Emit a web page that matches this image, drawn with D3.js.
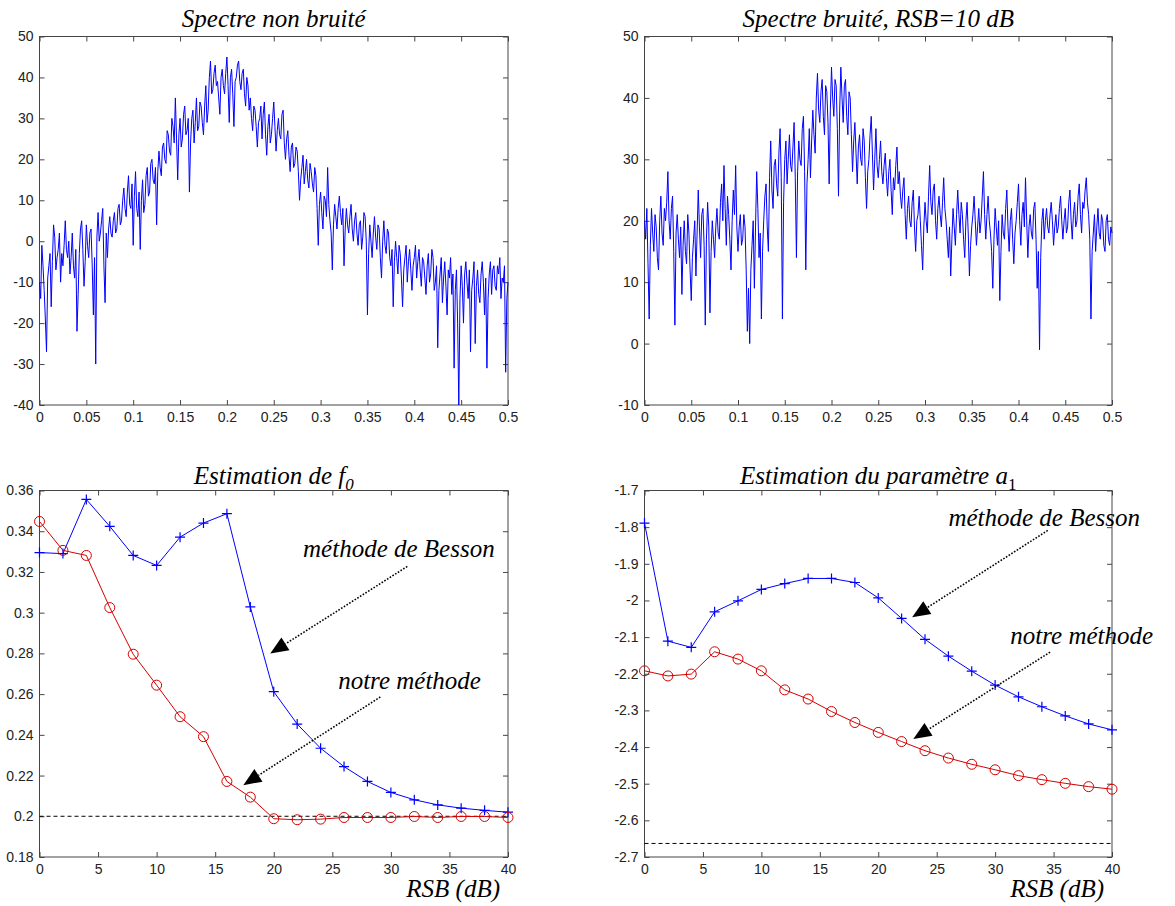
<!DOCTYPE html>
<html>
<head>
<meta charset="utf-8">
<script src="https://cdn.jsdelivr.net/npm/d3@7"></script>
<style>
  body { margin: 0; background: #fff; }
  .serif { font-family: "Liberation Serif", "DejaVu Serif", "Noto Serif", "Tinos", "Times New Roman", Times, serif; }
</style>
</head>
<body>
<svg id="chart" width="1175" height="906"></svg>
<script>
// --- data ---
const freqTicks = [0, 0.05, 0.1, 0.15, 0.2, 0.25, 0.3, 0.35, 0.4, 0.45, 0.5];
const specTicksClean = [-40, -30, -20, -10, 0, 10, 20, 30, 40, 50];
const specTicksNoisy = [-10, 0, 10, 20, 30, 40, 50];
const rsbTicks = [0, 5, 10, 15, 20, 25, 30, 35, 40];
const f0Ticks = [0.18, 0.2, 0.22, 0.24, 0.26, 0.28, 0.3, 0.32, 0.34, 0.36];
const a1Ticks = [-2.7, -2.6, -2.5, -2.4, -2.3, -2.2, -2.1, -2, -1.9, -1.8, -1.7];

// spectra (dB) sampled every 0.00125 on [0, 0.5]
const freqStep = 0.00125;
const spectreNonBruite = [
  -10, -14, -1, -6, -12, -19, -27, -9, -6, -3, -16, -5, 4, 1, -7, -4, -2, 2, -10, -3,
  -6, -1, 5, -2, -4, 0, -8, -4, 2, -6, -9, -2, -22, -13, -3, 3, 5, -2, -11, -5,
  4, -1, -4, 2, 3, -6, -18, -4, -30, 1, 7, 0, 2, 5, 8, -6, -15, 2, -4, 3,
  6, 2, 1, 5, 7, 2, 3, 8, 9, 4, 5, 10, 13, 8, 6, 12, 16, 9, 8, 14,
  -1, 11, 17, 8, 6, 12, -2, 10, 15, 7, 9, 16, 18, 11, 12, 19, 20, 15, 14, 18,
  4, 17, 22, 18, 16, 23, 24, 20, 19, 27, 26, 22, 21, 30, 28, 24, 35, 25, 15, 26,
  30, 23, 25, 31, 33, 26, 27, 30, 12, 24, 30, 32, 24, 29, 35, 27, 28, 34, 33, 29,
  26, 33, 38, 29, 32, 40, 44, 36, 37, 41, 43, 38, 39, 35, 31, 40, 42, 38, 36, 41,
  45, 38, 29, 40, 42, 36, 28, 39, 40, 43, 44, 39, 37, 41, 42, 36, 33, 40, 38, 32,
  35, 30, 27, 33, 32, 28, 23, 29, 30, 33, 25, 31, 34, 26, 21, 28, 31, 24, 26, 30,
  34, 28, 22, 27, 30, 26, 25, 31, 32, 24, 20, 25, 27, 21, 17, 23, 24, 18, 19, 23,
  22, 17, 10, 15, 18, 21, 14, 17, 20, 15, 13, 19, 17, 14, 12, 18, 16, 8, -1, 9,
  12, 7, 3, 11, 10, 6, 18, 9, 5, 2, -7, 4, 9, 6, 3, 8, 11, 7, 4, 8,
  -6, 3, 8, 4, 2, 6, 9, 3, 0, 5, 7, 2, -1, 4, 5, -2, 1, 7, 6, 0,
  -18, -3, 4, 0, -4, 2, 6, 1, -2, 4, 3, -4, -9, 0, 5, -1, -3, 3, 2, -4,
  -6, -2, -16, -5, 0, -4, -8, -1, -3, -9, -16, -7, -4, -1, -10, -5, -2, -7, -12, -6,
  -4, -1, -9, -5, -2, -7, -11, -4, -5, -9, -13, -6, -3, -10, -8, -2, -4, -12, -10, -6,
  -26, -12, -8, -4, -15, -9, -5, -11, -18, -7, -9, -4, -13, -8, -31, -12, -7, -20, -40, -14,
  -6, -11, -20, -8, -5, -10, -14, -7, -27, -12, -9, -5, -25, -11, -7, -13, -15, -8, -5, -10,
  -18, -9, -31, -14, -8, -5, -13, -7, -6, -11, -12, -6, -8, -4, -14, -9, -10, -6, -32, -14,
  -10
];
const spectreBruite = [
  20, 17, 22, 13, 4, 16, 22, 18, 15, 21, 19, 14, 12, 20, 24, 18, 16, 22, 20, 23,
  28, 20, 17, 22, 24, 15, 3, 18, 21, 17, 14, 19, 8, 16, 20, 15, 13, 21, 18, 12,
  7, 14, 17, 20, 11, 18, 25, 19, 14, 21, 22, 16, 3, 17, 23, 19, 5, 15, 20, 17,
  14, 19, 22, 18, 17, 23, 26, 20, 29, 22, 16, 24, 21, 17, 12, 20, 25, 21, 29, 19,
  15, 19, 21, 16, 17, 21, 19, 12, 2, 9, 0, 12, 16, 20, 9, 19, 28, 22, 14, 18,
  4, 15, 20, 24, 26, 19, 15, 27, 33, 25, 22, 29, 30, 26, 24, 31, 35, 27, 4, 23,
  30, 33, 26, 30, 34, 29, 28, 32, 36, 27, 14, 28, 33, 30, 29, 35, 37, 28, 12, 26,
  30, 35, 27, 33, 38, 34, 31, 40, 44, 38, 36, 41, 43, 37, 34, 42, 41, 36, 26, 38,
  45, 40, 37, 43, 42, 35, 24, 38, 45, 40, 36, 42, 43, 37, 34, 41, 40, 34, 28, 33,
  36, 31, 26, 32, 34, 30, 29, 35, 33, 27, 22, 28, 30, 34, 37, 31, 25, 30, 35, 29,
  27, 30, 33, 28, 26, 29, 31, 27, 24, 28, 30, 25, 21, 27, 25, 29, 32, 26, 28, 24,
  22, 25, 27, 21, 17, 22, 24, 20, 19, 23, 25, 19, 15, 20, 21, 24, 20, 16, 12, 19,
  23, 20, 18, 24, 29, 23, 21, 25, 26, 20, 17, 22, 24, 21, 19, 23, 27, 22, 20, 17,
  14, 19, 11, 17, 22, 19, 16, 21, 25, 21, 18, 23, 21, 17, 14, 20, 23, 18, 11, 16,
  19, 21, 24, 20, 16, 19, 22, 18, 20, 24, 28, 21, 17, 21, 24, 20, 18, 15, 9, 17,
  22, 19, 16, 20, 7, 15, 21, 18, 17, 22, 25, 19, 15, 20, 22, 17, 13, 18, 20, 23,
  26, 20, 16, 21, 23, 19, 27, 20, 14, 19, 21, 18, 17, 22, 23, 17, 9, 15, -1, 14,
  20, 22, 17, 20, 22, 19, 18, 21, 23, 20, 16, 19, 21, 18, 19, 22, 24, 20, 17, 20,
  22, 18, 19, 23, 25, 20, 17, 21, 23, 19, 20, 24, 26, 21, 18, 23, 22, 25, 27, 23,
  21, 17, 4, 15, 18, 21, 15, 19, 22, 18, 17, 21, 20, 16, 15, 20, 21, 17, 16, 19,
  18
];

const rsb = [0, 2, 4, 6, 8, 10, 12, 14, 16, 18, 20, 22, 24, 26, 28, 30, 32, 34, 36, 38, 40];
const f0Besson = [0.3295, 0.329, 0.3556, 0.3424, 0.3281, 0.3232, 0.3371, 0.344, 0.3486, 0.3028, 0.2612,
  0.2453, 0.2334, 0.2244, 0.2171, 0.2117, 0.2081, 0.2056, 0.204, 0.2029, 0.202];
const f0Notre = [0.3448, 0.3306, 0.3281, 0.3025, 0.2796, 0.2644, 0.2489, 0.2391, 0.2171, 0.2094, 0.1988,
  0.1983, 0.1986, 0.1994, 0.1994, 0.1994, 0.1999, 0.1994, 0.1999, 0.1999, 0.1994];
const f0Vrai = 0.2;
const a1Besson = [-1.789, -2.111, -2.128, -2.031, -2.001, -1.970, -1.954, -1.940, -1.940, -1.951, -1.993,
  -2.049, -2.106, -2.152, -2.193, -2.231, -2.263, -2.290, -2.315, -2.337, -2.353];
const a1Notre = [-2.192, -2.206, -2.201, -2.140, -2.160, -2.192, -2.244, -2.269, -2.303, -2.333, -2.360,
  -2.385, -2.410, -2.430, -2.447, -2.462, -2.478, -2.489, -2.499, -2.508, -2.515];
const a1Vrai = -2.663;

// --- drawing ---
const svg = d3.select("#chart");
svg.append("rect").attr("width", 1175).attr("height", 906).attr("fill", "#fff");

const axisColor = "#454545";
const labelFont = "'Liberation Sans', Arial, sans-serif";
const blue = "#0000ff";
const red = "#d40000";

function panel(o) {
  const g = svg.append("g").attr("transform", `translate(${o.left},${o.top})`);
  const x = d3.scaleLinear().domain(o.xDomain).range([0, o.width]);
  const y = d3.scaleLinear().domain(o.yDomain).range([o.height, 0]);

  const style = (sel) => {
    sel.select(".domain").remove();
    sel.selectAll(".tick line").attr("stroke", axisColor);
    sel.selectAll(".tick text")
      .attr("font-family", labelFont).attr("font-size", 14).attr("fill", "#222");
  };

  g.append("g").attr("transform", `translate(0,${o.height})`)
    .call(d3.axisBottom(x).tickValues(o.xTicks).tickFormat(o.xFmt)
      .tickSizeInner(-5).tickSizeOuter(0).tickPadding(7))
    .call(style);
  g.append("g")
    .call(d3.axisTop(x).tickValues(o.xTicks).tickFormat("").tickSizeInner(-5).tickSizeOuter(0))
    .call(style);
  g.append("g")
    .call(d3.axisLeft(y).tickValues(o.yTicks).tickFormat(o.yFmt)
      .tickSizeInner(-5).tickSizeOuter(0).tickPadding(6))
    .call(style);
  g.append("g").attr("transform", `translate(${o.width},0)`)
    .call(d3.axisRight(y).tickValues(o.yTicks).tickFormat("").tickSizeInner(-5).tickSizeOuter(0))
    .call(style);

  g.append("rect").attr("width", o.width).attr("height", o.height)
    .attr("fill", "none").attr("stroke", axisColor).attr("stroke-width", 1);

  const t = g.append("text").attr("class", "serif")
    .attr("x", o.width / 2).attr("y", o.titleY)
    .attr("text-anchor", "middle")
    .attr("font-style", "italic").attr("font-size", 25)
    .attr("fill", "#000");
  t.append("tspan").text(o.title);
  if (o.titleSub) {
    if (o.titleVar) t.append("tspan").text(o.titleVar);
    t.append("tspan").attr("dy", 6).attr("font-size", 17)
      .attr("font-style", o.subStyle || "italic").text(o.titleSub);
  }
  return { g, x, y, width: o.width, height: o.height };
}

const fmt2 = (d) => String(+(+d).toFixed(2));
const fmt1 = (d) => String(+(+d).toFixed(1));

function spectrum(p, values) {
  const line = d3.line().x((d, i) => p.x(i * freqStep)).y((d) => p.y(d));
  p.g.append("path").datum(values)
    .attr("d", line).attr("fill", "none")
    .attr("stroke", blue).attr("stroke-width", 1);
}

function series(p, xs, ys, color, marker) {
  const line = d3.line().x((d, i) => p.x(xs[i])).y((d) => p.y(d));
  p.g.append("path").datum(ys).attr("d", line)
    .attr("fill", "none").attr("stroke", color).attr("stroke-width", 1);
  const m = p.g.append("g");
  ys.forEach((v, i) => {
    const cx = p.x(xs[i]), cy = p.y(v);
    if (marker === "+") {
      m.append("path")
        .attr("d", `M${cx - 5},${cy}H${cx + 5}M${cx},${cy - 5}V${cy + 5}`)
        .attr("stroke", color).attr("stroke-width", 1.2);
    } else {
      m.append("circle").attr("cx", cx).attr("cy", cy).attr("r", 5)
        .attr("fill", "none").attr("stroke", color).attr("stroke-width", 1);
    }
  });
}

function refLine(p, v) {
  p.g.append("line")
    .attr("x1", 0).attr("x2", p.width)
    .attr("y1", p.y(v)).attr("y2", p.y(v))
    .attr("stroke", "#000").attr("stroke-width", 1)
    .attr("stroke-dasharray", "4,3");
}

function note(p, label, tx, ty, x0, y0, x1, y1) {
  p.g.append("text").attr("class", "serif")
    .attr("x", p.x(tx)).attr("y", p.y(ty))
    .attr("font-style", "italic").attr("font-size", 25)
    .attr("fill", "#000").text(label);
  const sx = p.x(x0), sy = p.y(y0), ex = p.x(x1), ey = p.y(y1);
  const len = Math.hypot(sx - ex, sy - ey);
  const ux = (sx - ex) / len, uy = (sy - ey) / len;
  const bx = ex + ux * 18, by = ey + uy * 18;
  p.g.append("line")
    .attr("x1", sx).attr("y1", sy).attr("x2", bx).attr("y2", by)
    .attr("stroke", "#000").attr("stroke-width", 1.6)
    .attr("stroke-dasharray", "1.6,1.6");
  p.g.append("path")
    .attr("d", `M${ex},${ey}L${bx - uy * 7.5},${by + ux * 7.5}L${bx + uy * 7.5},${by - ux * 7.5}Z`)
    .attr("fill", "#000");
}

function xLabel(p) {
  p.g.append("text").attr("class", "serif")
    .attr("x", p.width - 8).attr("y", p.height + 40)
    .attr("text-anchor", "end")
    .attr("font-style", "italic").attr("font-size", 25)
    .attr("fill", "#000").text("RSB (dB)");
}

// top left
const pA = panel({
  left: 39.5, top: 36.5, width: 468.5, height: 368.5,
  xDomain: [0, 0.5], yDomain: [-40, 50], xTicks: freqTicks, yTicks: specTicksClean,
  xFmt: fmt2, yFmt: fmt2, title: "Spectre non bruité", titleY: -10
});
spectrum(pA, spectreNonBruite);

// top right
const pB = panel({
  left: 644.5, top: 36.5, width: 467.5, height: 368.5,
  xDomain: [0, 0.5], yDomain: [-10, 50], xTicks: freqTicks, yTicks: specTicksNoisy,
  xFmt: fmt2, yFmt: fmt2, title: "Spectre bruité, RSB=10 dB", titleY: -10
});
spectrum(pB, spectreBruite);

// bottom left
const pC = panel({
  left: 39.5, top: 490.5, width: 468.5, height: 366.5,
  xDomain: [0, 40], yDomain: [0.18, 0.36], xTicks: rsbTicks, yTicks: f0Ticks,
  xFmt: fmt2, yFmt: fmt2, title: "Estimation de ", titleVar: "f", titleSub: "0", titleY: -7
});
refLine(pC, f0Vrai);
series(pC, rsb, f0Besson, blue, "+");
series(pC, rsb, f0Notre, red, "o");
note(pC, "méthode de Besson", 22.5, 0.3271, 31.4, 0.3227, 19.7, 0.2799);
note(pC, "notre méthode", 25.5, 0.2627, 29.1, 0.2586, 17.4, 0.2153);
xLabel(pC);

// bottom right
const pD = panel({
  left: 644.5, top: 490.5, width: 467.5, height: 366.5,
  xDomain: [0, 40], yDomain: [-2.7, -1.7], xTicks: rsbTicks, yTicks: a1Ticks,
  xFmt: fmt2, yFmt: fmt1, title: "Estimation du paramètre a", titleSub: "1", subStyle: "normal", titleY: -7
});
refLine(pD, a1Vrai);
series(pD, rsb, a1Besson, blue, "+");
series(pD, rsb, a1Notre, red, "o");
note(pD, "méthode de Besson", 26.0, -1.798, 34.5, -1.809, 22.9, -2.046);
note(pD, "notre méthode", 31.3, -2.120, 34.7, -2.141, 23.0, -2.378);
xLabel(pD);
</script>
</body>
</html>
